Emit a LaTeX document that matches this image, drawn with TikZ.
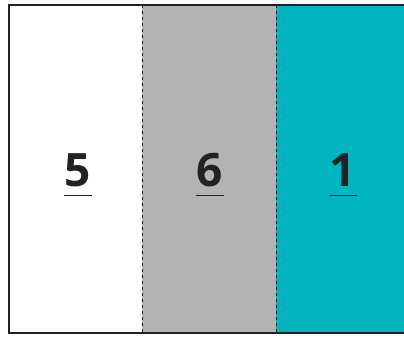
\documentclass[tikz,border=0pt]{standalone}
\usepackage{fontspec}
\setmainfont{Open Sans}
\definecolor{panelgray}{RGB}{179,179,179}
\definecolor{panelteal}{RGB}{0,181,192}
\definecolor{edge}{RGB}{34,34,34}
\begin{document}
\begin{tikzpicture}[x=1pt,y=1pt,
  digit/.style={anchor=base,inner sep=0pt,font=\fontsize{46}{46}\selectfont\bfseries,text=edge},
  uline/.style={draw=edge,line width=0.9pt},
  divider/.style={draw=edge,line width=1pt,dash pattern=on 3pt off 3pt},
  frame/.style={draw=edge,line width=2pt}]
\useasboundingbox (0,0) rectangle (404,338);
\fill[white] (9,5) rectangle (142,333);
\fill[panelgray] (142,5) rectangle (276,333);
\fill[panelteal] (276,5) rectangle (404,333);
\coordinate (d1t) at (142,333); \coordinate (d1b) at (142,5);
\coordinate (d2t) at (276,333); \coordinate (d2b) at (276,5);
\draw[divider] (d1t) -- (d1b);
\draw[divider] (d2t) -- (d2b);
\coordinate (tr) at (405,333); \coordinate (tl) at (9,333);
\coordinate (bl) at (9,5); \coordinate (br) at (405,5);
\draw[frame] (tr) -- (tl) -- (bl) -- (br);
\node[digit] (n5) at (78,152) {5};
\node[digit] (n6) at (210,152) {6};
\node[digit] (n1) at (343,152) {1};
\foreach \n in {n5,n6,n1}{
  \draw[uline] ([xshift=-14pt,yshift=-9pt]\n.base) -- ([xshift=14pt,yshift=-9pt]\n.base);
}
\end{tikzpicture}
\end{document}
